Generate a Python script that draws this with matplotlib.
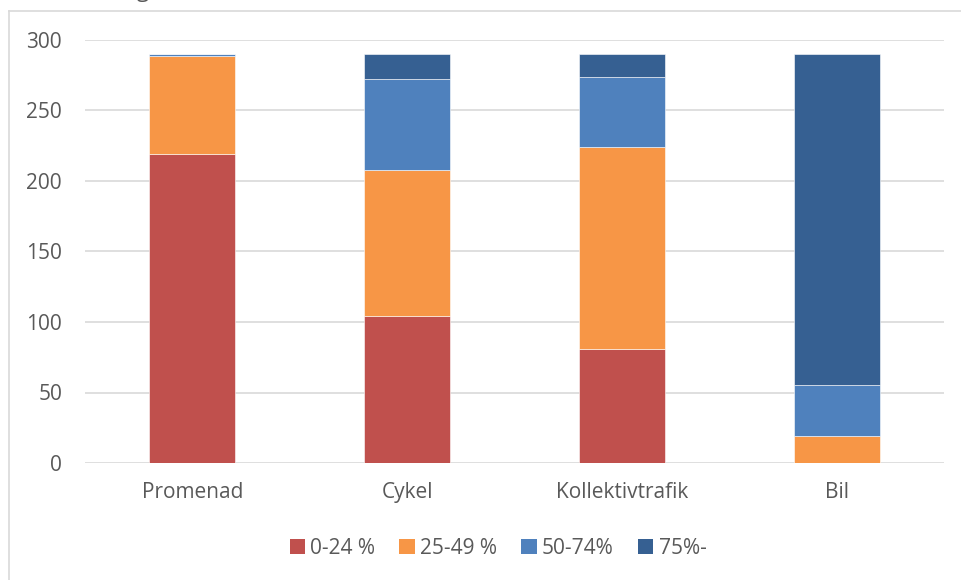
import numpy as np
import matplotlib.pyplot as plt
from matplotlib.lines import Line2D
from matplotlib.patches import Patch

plt.rcParams['font.family'] = ['Open Sans', 'DejaVu Sans']

# ======================
# data
# ======================
categories = ["Promenad", "Cykel", "Kollektivtrafik", "Bil"]
series_names = ["0-24 %", "25-49 %", "50-74%", "75%-"]
s_0_24 = [219, 104, 81, 0]
s_25_49 = [70, 104, 143, 19]
s_50_74 = [1, 64, 50, 36]
s_75 = [0, 18, 16, 235]
colors = ["#C0504D", "#F79646", "#4F81BD", "#366092"]

yticks = [0, 50, 100, 150, 200, 250, 300]
text_col = "#595959"

# ======================
# figure
# ======================
fig = plt.figure(figsize=(9.61, 5.8), dpi=100)
ax = fig.add_axes([85 / 961, 1 - 463 / 580, (944 - 85) / 961, (463 - 40) / 580])

x = np.arange(len(categories))
bottom = np.zeros(len(categories))
for vals, name, col in zip([s_0_24, s_25_49, s_50_74, s_75], series_names, colors):
    ax.bar(x, vals, width=0.4, bottom=bottom, color=col, label=name,
           edgecolor="white", linewidth=0.4, zorder=3)
    bottom += np.array(vals)

ax.set_xlim(-0.5, len(categories) - 0.5)
ax.set_ylim(0, 300)
ax.set_yticks(yticks)
ax.set_xticks(x)
ax.set_xticklabels(categories)
ax.tick_params(axis="both", length=0, labelsize=15, colors=text_col)
ax.tick_params(axis="y", pad=16.5)
ax.tick_params(axis="x", pad=14)
ax.grid(axis="y", color="#D9D9D9", linewidth=1.2, zorder=0)
for sp in ax.spines.values():
    sp.set_visible(False)

handles = [Patch(facecolor=c, edgecolor="none") for c in colors]
fig.legend(handles, series_names, loc="center", bbox_to_anchor=(498 / 961, 1 - 548 / 580),
           ncol=4, frameon=False, fontsize=15, labelcolor=text_col,
           handlelength=0.75, handleheight=0.75, handletextpad=0.25, columnspacing=1.15)

# chart frame (only top and left edges visible)
fig.add_artist(Line2D([9 / 961, 9 / 961], [0, 1 - 11 / 580], color="#D9D9D9", linewidth=1.2))
fig.add_artist(Line2D([9 / 961, 1], [1 - 11 / 580, 1 - 11 / 580], color="#D9D9D9", linewidth=1.2))

# title, cut off at the top edge as in the original
fig.text(0.0, 1 + 3 / 580, "Antal svar/dag", fontsize=16, color=text_col, va="baseline")

fig.savefig("out.png", dpi=100)
